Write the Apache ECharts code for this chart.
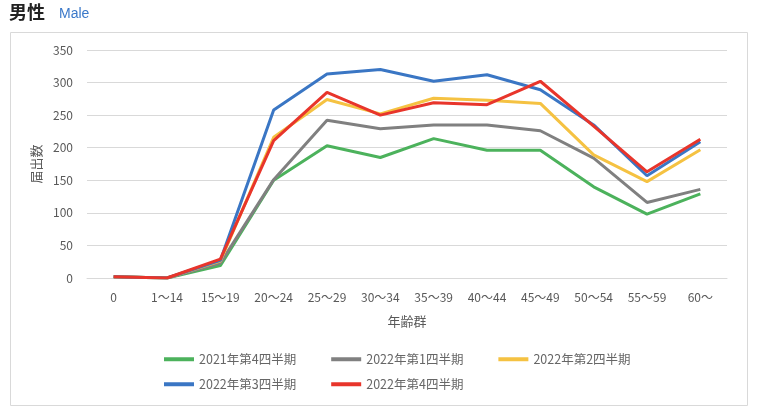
<!DOCTYPE html>
<html><head><meta charset="utf-8">
<script src="https://cdn.jsdelivr.net/npm/echarts@6/dist/echarts.min.js"></script>
<style>html,body{margin:0;padding:0;background:#fff}#c{width:761px;height:412px}</style>
</head><body><div id="c"></div>
<script>
const categories = ['0','1～14','15～19','20～24','25～29','30～34','35～39','40～44','45～49','50～54','55～59','60～'];
const seriesNames = ['2021年第4四半期','2022年第1四半期','2022年第2四半期','2022年第3四半期','2022年第4四半期'];
const q2021_4 = [2, 0, 19, 150, 203, 185, 214, 196, 196, 140, 98, 129];
const q2022_1 = [2, 0, 23, 151, 242, 229, 235, 235, 226, 184, 116, 136];
const q2022_2 = [2, 0, 26, 216, 274, 252, 276, 273, 268, 189, 148, 197];
const q2022_3 = [2, 0, 27, 258, 313, 320, 302, 312, 289, 235, 157, 209];
const q2022_4 = [2, 0, 29, 211, 285, 250, 269, 266, 302, 233, 163, 213];
const colors = ['#4cb25c','#808080','#f5c242','#3a76c4','#e8352b'];
const font = "'Noto Sans CJK JP', sans-serif";
const chart = echarts.init(document.getElementById('c'));
const allData = [q2021_4, q2022_1, q2022_2, q2022_3, q2022_4];
const legendBase = {
  itemGap: 35, itemWidth: 30, itemHeight: 12, orient: 'horizontal',
  icon: 'path://M0,4.5 L30,4.5 L30,8.5 L0,8.5 Z',
  textStyle: {color:'#666', fontSize: 12.5, fontFamily: font}
};
chart.setOption({
  animation: false,
  textStyle: {fontFamily: font},
  graphic: [
    {type:'rect', shape:{x:10.5,y:32.5,width:737,height:373}, style:{fill:'none', stroke:'#d9d9d9', lineWidth:1}},
    {type:'text', left:9, top:3, style:{text:'男性', font:"bold 18px 'Noto Sans CJK JP'", fill:'#222'}},
    {type:'text', left:59, top:7, style:{text:'Male', font:"14px 'Liberation Sans', Arial", fill:'#3a78c9'}}
  ],
  grid: {left: 87, right: 34, top: 50, bottom: 134},
  legend: [
    Object.assign({left: 159, top: 348, data: seriesNames.slice(0,3)}, legendBase),
    Object.assign({left: 159, top: 373, data: seriesNames.slice(3)}, legendBase)
  ],
  xAxis: {
    type: 'category', data: categories, boundaryGap: true,
    name: '年齢群', nameLocation: 'middle', nameGap: 37,
    nameTextStyle: {color:'#595959', fontSize: 13},
    axisLine: {show: true, lineStyle:{color:'#d9d9d9'}}, axisTick:{show:false},
    axisLabel: {color:'#595959', fontSize: 12, margin: 13, interval: 0}
  },
  yAxis: {
    type: 'value', min: 0, max: 350, interval: 50,
    name: '届出数', nameLocation: 'middle', nameGap: 42,
    nameTextStyle: {color:'#595959', fontSize: 13},
    axisLine:{show:false}, axisTick:{show:false},
    axisLabel: {color:'#595959', fontSize: 12, margin: 14},
    splitLine: {lineStyle:{color:'#d9d9d9', width:1}}
  },
  series: seriesNames.map((n,i)=>({
    name: n, type:'line', data: allData[i], symbol:'none',
    lineStyle:{width:3, color: colors[i]}, itemStyle:{color: colors[i]}
  }))
});
</script></body></html>
